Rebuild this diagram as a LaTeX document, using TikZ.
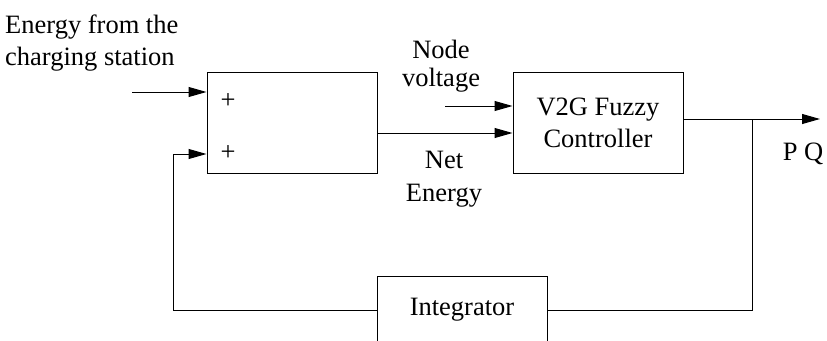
\documentclass[tikz,border=0pt]{standalone}
\usepackage{fontspec}
\setmainfont{Liberation Serif}
\usetikzlibrary{arrows.meta}
\begin{document}
\begin{tikzpicture}[x=1pt,y=-1pt,
  txt/.style={inner sep=0pt, align=center, font=\fontsize{26.5}{32}\selectfont},
  blk/.style={txt, draw, line width=1pt},
  wire/.style={line width=1pt},
  arr/.style={wire, -{Triangle[length=18pt,width=10pt]}}]
\clip (0,0) rectangle (827,340);
\node[blk, minimum width=170pt, minimum height=101pt] (sum) at (292,122.5) {};
\node[blk, minimum width=170pt, minimum height=101pt] (fz) at (598,122.5) {V2G Fuzzy\\Controller};
\node[blk, minimum width=170pt, minimum height=68pt] (int) at (462,310) {Integrator};
\node[txt, align=left, anchor=west] (src) at (5,43) {Energy from the\\charging station};
\node[txt] (p1) at (228,101) {+};
\node[txt] (p2) at (228,153) {+};
\node[txt, font=\fontsize{26.5}{28}\selectfont] (nvl) at (441,66) {Node\\voltage};
\node[txt, font=\fontsize{26.5}{33}\selectfont] (nel) at (444,179) {Net\\Energy};
\node[txt] (pq) at (803,154) {P Q};
\coordinate (inS) at (132,92);
\coordinate (fb) at (173,154);
\coordinate (nv) at (445,106);
\coordinate (out) at (820,119);
\coordinate (br) at (752,119);
\draw[arr] (inS) -- (inS -| sum.west);
\draw[arr] (int.west) -| (fb) -- (fb -| sum.west);
\draw[arr] (nv) -- (nv -| fz.west);
\draw[arr] ([yshift=-10.5pt]sum.east) -- ([yshift=-10.5pt]fz.west);
\draw[arr] ([yshift=3.5pt]fz.east) -- (out);
\draw[wire] (br) |- (int.east);
\end{tikzpicture}
\end{document}
